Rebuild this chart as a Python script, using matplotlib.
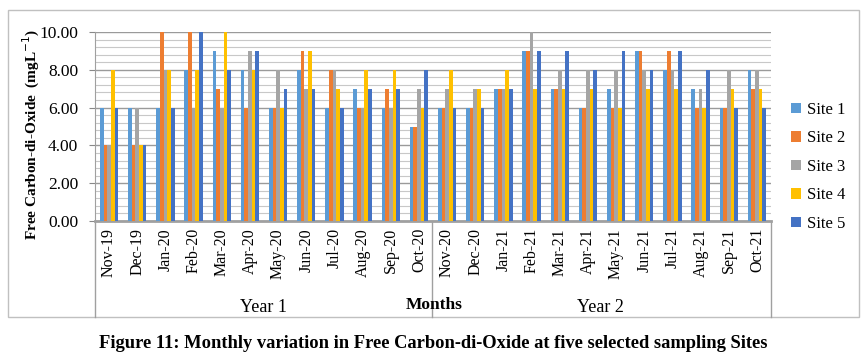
import matplotlib
matplotlib.use("Agg")
import matplotlib.pyplot as plt
import numpy as np
from matplotlib.lines import Line2D
from matplotlib.patches import Rectangle

plt.rcParams['font.family'] = ['Liberation Serif', 'DejaVu Serif']

months = ["Nov-19", "Dec-19", "Jan-20", "Feb-20", "Mar-20", "Apr-20", "May-20", "Jun-20",
          "Jul-20", "Aug-20", "Sep-20", "Oct-20", "Nov-20", "Dec-20", "Jan-21", "Feb-21",
          "Mar-21", "Apr-21", "May-21", "Jun-21", "Jul-21", "Aug-21", "Sep-21", "Oct-21"]
site1 = [6, 6, 6, 8, 9, 8, 6, 8, 6, 7, 6, 5, 6, 6, 7, 9, 7, 6, 7, 9, 8, 7, 6, 8]
site2 = [4, 4, 10, 10, 7, 6, 6, 9, 8, 6, 7, 5, 6, 6, 7, 9, 7, 6, 6, 9, 9, 6, 6, 7]
site3 = [4, 6, 8, 6, 6, 9, 8, 7, 8, 6, 6, 7, 7, 7, 7, 10, 8, 8, 8, 8, 8, 7, 8, 8]
site4 = [8, 4, 8, 8, 10, 8, 6, 9, 7, 8, 8, 6, 8, 7, 8, 7, 7, 7, 6, 7, 7, 6, 7, 7]
site5 = [6, 4, 6, 10, 8, 9, 7, 7, 6, 7, 7, 8, 6, 6, 7, 9, 9, 8, 9, 8, 9, 8, 6, 6]
series = [site1, site2, site3, site4, site5]
labels = ["Site 1", "Site 2", "Site 3", "Site 4", "Site 5"]
colors = ["#5B9BD5", "#ED7D31", "#A5A5A5", "#FFC000", "#4472C4"]
years = ["Year 1", "Year 2"]

W, H = 867, 362
fig = plt.figure(figsize=(W / 100, H / 100), dpi=100)

def fx(px):
    return px / W

def fy(py):
    return 1 - py / H

ax_l, ax_r, ax_t, ax_b = 95, 771, 32, 221
ax = fig.add_axes([fx(ax_l), fy(ax_b), fx(ax_r - ax_l), (ax_b - ax_t) / H])

n = len(months)
x = np.arange(n)
bw = 0.13
for i, (vals, lab, col) in enumerate(zip(series, labels, colors)):
    ax.bar(x + (i - 2) * bw, vals, width=bw, color=col, label=lab, zorder=3, linewidth=0)

ax.set_xlim(-0.5, n - 0.5)
ax.set_ylim(0, 10)
ax.set_yticks(np.arange(0, 10.01, 2))
ax.set_yticklabels([f"{v:.2f}" for v in np.arange(0, 10.01, 2)], fontsize=12.5)
ax.set_yticks(np.arange(0, 10.01, 0.4), minor=True)
ax.tick_params(axis='y', which='major', length=4, color='#888888', pad=8)
ax.tick_params(axis='y', which='minor', length=0)
ax.grid(axis='y', which='minor', color='#C8C8C8', linewidth=0.8, zorder=0)
ax.grid(axis='y', which='major', color='#9A9A9A', linewidth=1.0, zorder=0)

ax.set_xticks(x)
ax.set_xticklabels(months, rotation=90, fontsize=11.5)
ax.tick_params(axis='x', length=0, pad=5)

for s in ['top', 'right']:
    ax.spines[s].set_visible(False)
ax.spines['left'].set_color('#A0A0A0')
ax.spines['bottom'].set_color('#A0A0A0')
ax.spines['bottom'].set_linewidth(2.0)

fig.text(fx(31), fy(134), "Free Carbon-di-Oxide  (mgL$^{-1}$)", rotation=90,
         ha='center', va='center', fontsize=11, fontweight='bold')

# category separators and outer border
for px in [ax_l, 432, ax_r]:
    fig.add_artist(Line2D([fx(px), fx(px)], [fy(ax_b), fy(317)], color='#A0A0A0', lw=1.0))
fig.add_artist(Rectangle((fx(8), fy(317)), fx(859 - 8), (317 - 10) / H, fill=False,
                         edgecolor='#C0C0C0', lw=1.0))

fig.text(fx(263), fy(307), years[0], ha='center', va='center', fontsize=13)
fig.text(fx(600), fy(307), years[1], ha='center', va='center', fontsize=13)
fig.text(fx(434), fy(305), "Months", ha='center', va='center', fontsize=12.5, fontweight='bold')

leg = fig.legend(loc='upper left', bbox_to_anchor=(fx(784), fy(95)), frameon=False,
                 fontsize=12, handlelength=0.6, handleheight=0.6, handletextpad=0.4,
                 labelspacing=0.75, borderaxespad=0)

fig.text(fx(433), fy(343), "Figure 11: Monthly variation in Free Carbon-di-Oxide at five selected sampling Sites",
         ha='center', va='center', fontsize=13.3, fontweight='bold')

fig.savefig("out.png", dpi=100)
